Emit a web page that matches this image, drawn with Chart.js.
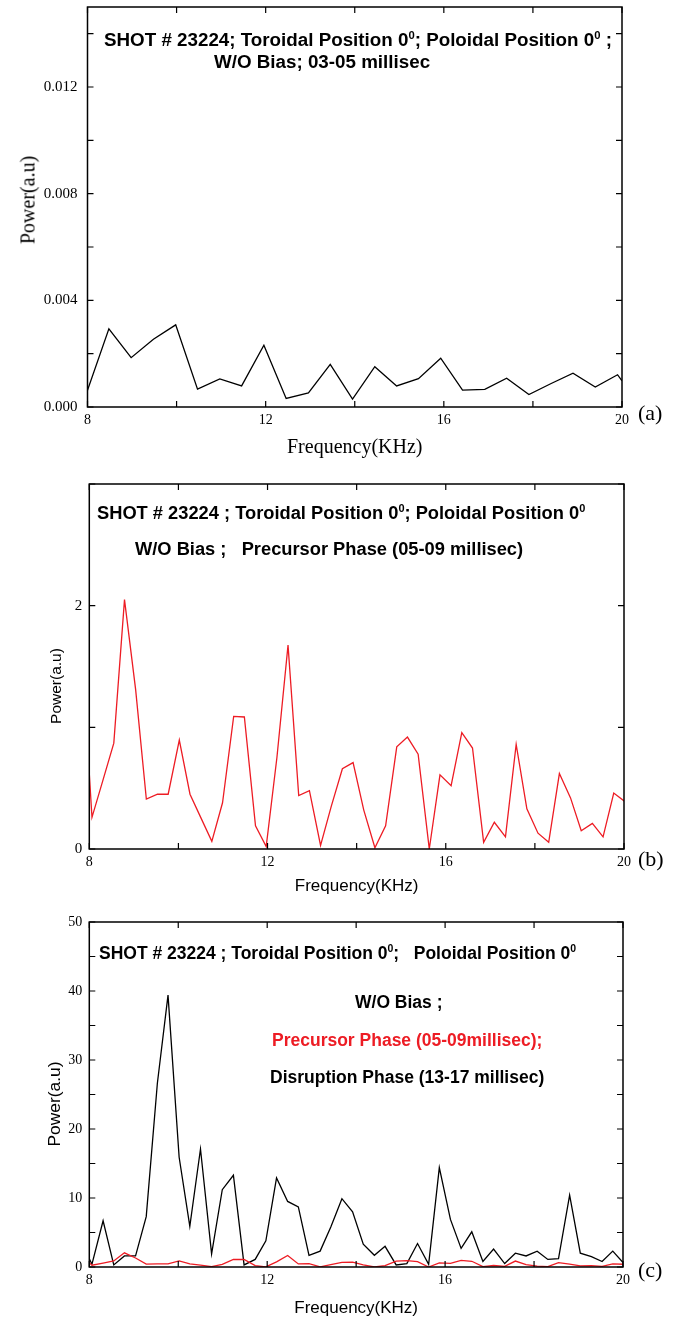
<!DOCTYPE html>
<html>
<head>
<meta charset="utf-8">
<script src="https://cdn.jsdelivr.net/npm/chart.js@4.4.1/dist/chart.umd.min.js"></script>
<style>
body { margin: 0; background: #fff; width: 681px; height: 1321px; position: relative; overflow: hidden; }
.panel { position: absolute; left: 0; width: 681px; }
.note { position: absolute; font-family: "Liberation Sans", Arial, sans-serif; font-weight: bold; line-height: 20px; white-space: pre; color: #000; }
.note sup { font-size: 0.6em; line-height: 0; }
.red { color: #ed1c24; }
.tag { position: absolute; font-family: "Liberation Serif", serif; font-size: 22px; line-height: 26px; }
.ytitle { position: absolute; white-space: nowrap; transform: translate(-50%, -50%) rotate(-90deg); }
</style>
</head>
<body>

<div class="panel" style="top:0;height:465px"><canvas id="chartA"></canvas></div>
<div class="panel" style="top:470px;height:430px"><canvas id="chartB"></canvas></div>
<div class="panel" style="top:905px;height:416px"><canvas id="chartC"></canvas></div>

<div class="note" style="left:104px;top:30px;font-size:18.8px">SHOT # 23224; Toroidal Position 0<sup>0</sup>; Poloidal Position 0<sup>0</sup> ;</div>
<div class="note" style="left:214px;top:52px;font-size:18.8px">W/O Bias; 03-05 millisec</div>

<div class="note" style="left:97px;top:503px;font-size:18.3px">SHOT # 23224 ; Toroidal Position 0<sup>0</sup>; Poloidal Position 0<sup>0</sup></div>
<div class="note" style="left:135px;top:539px;font-size:18.3px">W/O Bias ;   Precursor Phase (05-09 millisec)</div>

<div class="note" style="left:99px;top:943px;font-size:17.5px">SHOT # 23224 ; Toroidal Position 0<sup>0</sup>;   Poloidal Position 0<sup>0</sup></div>
<div class="note" style="left:355px;top:992px;font-size:17.5px">W/O Bias ;</div>
<div class="note red" style="left:272px;top:1030px;font-size:17.5px">Precursor Phase (05-09millisec);</div>
<div class="note" style="left:270px;top:1067px;font-size:17.5px">Disruption Phase (13-17 millisec)</div>

<div class="tag" style="left:638px;top:400px">(a)</div>
<div class="tag" style="left:638px;top:846px">(b)</div>
<div class="tag" style="left:638px;top:1257px">(c)</div>

<div class="ytitle" style="left:28px;top:200px;font:20px 'Liberation Serif',serif">Power(a.u)</div>
<div class="ytitle" style="left:56px;top:686px;font:15.5px 'Liberation Sans',Arial,sans-serif">Power(a.u)</div>
<div class="ytitle" style="left:54px;top:1104px;font:17.4px 'Liberation Sans',Arial,sans-serif">Power(a.u)</div>

<script>
// panel (a): 03-05 ms
var freqA = [8.0, 8.48, 8.98, 9.48, 9.98, 10.47, 10.97, 11.46, 11.96, 12.46, 12.96, 13.45, 13.95,
             14.45, 14.94, 15.43, 15.93, 16.42, 16.92, 17.41, 17.91, 18.41, 18.90, 19.40, 19.90, 20.0];
var powerA = [0.00063, 0.00293, 0.00185, 0.00254, 0.00308, 0.00067, 0.00105, 0.00079, 0.00232, 0.00032,
              0.00053, 0.0016, 0.0003, 0.00151, 0.00079, 0.00106, 0.00183, 0.00063, 0.00066, 0.00108,
              0.00047, 0.00088, 0.00127, 0.00075, 0.00121, 0.00098];

// panels (b) and (c) share the frequency grid
var freqBC = [8.0, 8.06, 8.31, 8.55, 8.79, 9.04, 9.28, 9.53, 9.77, 10.02, 10.26, 10.50, 10.75, 10.99,
              11.24, 11.48, 11.73, 11.97, 12.21, 12.46, 12.70, 12.94, 13.19, 13.43, 13.68, 13.92, 14.16,
              14.41, 14.65, 14.90, 15.14, 15.38, 15.63, 15.87, 16.12, 16.36, 16.60, 16.85, 17.09, 17.34,
              17.58, 17.82, 18.07, 18.31, 18.55, 18.80, 19.04, 19.29, 19.53, 19.77, 20.02];
// precursor phase 05-09 ms
var powerPrecursor = [0.62, 0.26, 0.57, 0.87, 2.05, 1.31, 0.41, 0.45, 0.45, 0.895, 0.45, 0.26, 0.063, 0.38,
                      1.09, 1.085, 0.19, 0.02, 0.75, 1.676, 0.44, 0.48, 0.03, 0.35, 0.66, 0.71, 0.32,
                      0.01, 0.19, 0.84, 0.92, 0.78, 0.0, 0.61, 0.52, 0.956, 0.83, 0.055, 0.22, 0.10,
                      0.86, 0.33, 0.13, 0.055, 0.62, 0.42, 0.15, 0.21, 0.10, 0.46, 0.39];
// disruption phase 13-17 ms
var powerDisruption = [1.2, 0.4, 6.7, 0.3, 1.6, 1.6, 7.3, 26.6, 39.4, 15.9, 5.9, 17.1, 1.9, 11.2,
                       13.3, 0.3, 1.1, 3.8, 12.9, 9.5, 8.7, 1.7, 2.3, 5.8, 9.9, 8.0, 3.3,
                       1.7, 3.0, 0.3, 0.5, 3.4, 0.4, 14.4, 6.9, 2.7, 5.1, 0.8, 2.6, 0.5,
                       2.0, 1.6, 2.3, 1.1, 1.2, 10.4, 2.0, 1.5, 0.8, 2.3, 0.5];

var xTicks = [8, 10, 12, 14, 16, 18, 20];
var xLabels = [8, 12, 16, 20];
var yTicksA = [0, 0.002, 0.004, 0.006, 0.008, 0.010, 0.012, 0.014];
var yLabelsA = [0, 0.004, 0.008, 0.012];
var yTicksB = [0, 1, 2, 3];
var yLabelsB = [0, 2];
var yTicksC = [0, 5, 10, 15, 20, 25, 30, 35, 40, 45, 50];
var yLabelsC = [0, 10, 20, 30, 40, 50];

var RED = '#ed1c24';

function pts(xs, ys) {
    return xs.map(function (x, i) { return {x: x, y: ys[i]}; });
}

function inList(list, v) {
    return list.some(function (l) { return Math.abs(l - v) < 1e-9; });
}

// box round the plot with inward ticks on all four sides
var framePlugin = {
    id: 'frame',
    afterDraw: function (chart) {
        var ctx = chart.ctx, a = chart.chartArea;
        var sx = chart.scales.x, sy = chart.scales.y;
        ctx.save();
        ctx.strokeStyle = '#000';
        ctx.lineWidth = 1.5;
        ctx.strokeRect(a.left, a.top, a.right - a.left, a.bottom - a.top);
        ctx.lineWidth = 1.2;
        ctx.beginPath();
        sx.ticks.forEach(function (t) {
            var px = sx.getPixelForValue(t.value);
            ctx.moveTo(px, a.bottom); ctx.lineTo(px, a.bottom - 6);
            ctx.moveTo(px, a.top); ctx.lineTo(px, a.top + 6);
        });
        sy.ticks.forEach(function (t) {
            var py = sy.getPixelForValue(t.value);
            ctx.moveTo(a.left, py); ctx.lineTo(a.left + 6, py);
            ctx.moveTo(a.right, py); ctx.lineTo(a.right - 6, py);
        });
        ctx.stroke();
        ctx.restore();
    }
};

function makeChart(id, cfg) {
    var serif = {family: "'Liberation Serif', serif", size: 14};
    return new Chart(document.getElementById(id), {
        type: 'line',
        data: {datasets: cfg.datasets},
        options: {
            responsive: true,
            maintainAspectRatio: false,
            animation: false,
            layout: {padding: cfg.padding},
            plugins: {legend: {display: false}, tooltip: {enabled: false}},
            elements: {point: {radius: 0}, line: {borderWidth: 1.3, tension: 0}},
            scales: {
                x: {
                    type: 'linear', min: 8, max: 20,
                    grid: {display: false, drawTicks: false}, border: {display: false},
                    afterBuildTicks: function (s) { s.ticks = xTicks.map(function (v) { return {value: v}; }); },
                    afterFit: function (s) { s.height = cfg.xHeight; s.paddingLeft = 0; s.paddingRight = 0; },
                    ticks: {
                        color: '#000', font: serif, padding: 5, maxRotation: 0, autoSkip: false,
                        callback: function (v) { return inList(xLabels, v) ? String(v) : ''; }
                    },
                    title: {display: true, text: 'Frequency(KHz)', color: '#000', font: cfg.xTitleFont,
                            padding: {top: 0, bottom: cfg.xTitlePad}}
                },
                y: {
                    type: 'linear', min: cfg.yMin, max: cfg.yMax,
                    grid: {display: false, drawTicks: false}, border: {display: false},
                    afterBuildTicks: function (s) { s.ticks = cfg.yTicks.map(function (v) { return {value: v}; }); },
                    afterFit: function (s) { s.width = cfg.yWidth; s.paddingTop = 0; s.paddingBottom = 0; },
                    ticks: {
                        color: '#000', font: {family: "'Liberation Serif', serif", size: cfg.yFontSize},
                        padding: cfg.yLabelPad, autoSkip: false,
                        callback: function (v) { return inList(cfg.yLabels, v) ? cfg.fmt(v) : ''; }
                    }
                }
            }
        },
        plugins: [framePlugin]
    });
}

makeChart('chartA', {
    datasets: [{data: pts(freqA, powerA), borderColor: '#000'}],
    padding: {top: 7, right: 59, left: 0, bottom: 0},
    xHeight: 58, yWidth: 87.5, yFontSize: 15, yLabelPad: 10,
    yMin: 0, yMax: 0.015, yTicks: yTicksA, yLabels: yLabelsA,
    fmt: function (v) { return v.toFixed(3); },
    xTitleFont: {family: "'Liberation Serif', serif", size: 20}, xTitlePad: 5
});

makeChart('chartB', {
    datasets: [{data: pts(freqBC, powerPrecursor), borderColor: RED}],
    padding: {top: 14, right: 57, left: 0, bottom: 0},
    xHeight: 51, yWidth: 89.3, yFontSize: 15, yLabelPad: 7,
    yMin: 0, yMax: 3, yTicks: yTicksB, yLabels: yLabelsB,
    fmt: function (v) { return String(v); },
    xTitleFont: {family: "'Liberation Sans', Arial, sans-serif", size: 17}, xTitlePad: 3
});

makeChart('chartC', {
    datasets: [
        {data: pts(freqBC, powerPrecursor), borderColor: RED},
        {data: pts(freqBC, powerDisruption), borderColor: '#000'}
    ],
    padding: {top: 17, right: 58, left: 0, bottom: 0},
    xHeight: 54, yWidth: 89.3, yFontSize: 14, yLabelPad: 7,
    yMin: 0, yMax: 50, yTicks: yTicksC, yLabels: yLabelsC,
    fmt: function (v) { return String(v); },
    xTitleFont: {family: "'Liberation Sans', Arial, sans-serif", size: 17}, xTitlePad: 2
});
</script>
</body>
</html>
